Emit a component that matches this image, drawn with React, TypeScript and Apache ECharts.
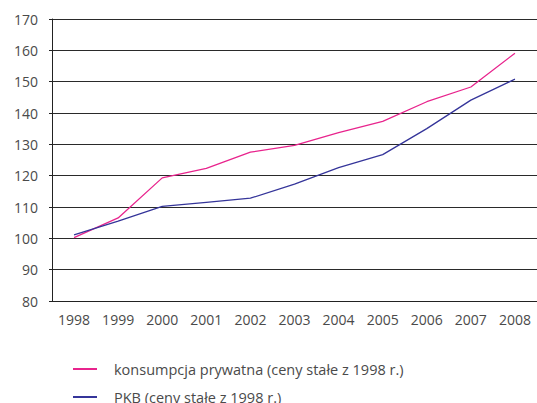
import React, { useEffect, useRef } from "react";
import * as echarts from "echarts";

const years = ["1998", "1999", "2000", "2001", "2002", "2003", "2004", "2005", "2006", "2007", "2008"];
const konsumpcja = [100.2, 106.5, 119.3, 122.3, 127.5, 129.7, 133.7, 137.3, 143.6, 148.3, 159.1];
const pkb = [101.1, 105.5, 110.2, 111.5, 112.8, 117.3, 122.6, 126.7, 135.0, 144.1, 150.8];
const seriesNames = ["konsumpcja prywatna (ceny stałe z 1998 r.)", "PKB (ceny stałe z 1998 r.)"];

const FONT = "'Open Sans', 'Noto Sans', sans-serif";
const TEXT = "#4a4a4a";

function legendFor(name: string, top: number) {
  return {
    orient: "horizontal",
    left: 73,
    top,
    padding: 0,
    icon: "rect",
    itemWidth: 24,
    itemHeight: 2,
    textStyle: { fontSize: 14.5, color: TEXT, fontFamily: FONT, lineHeight: 18, padding: [0, 0, 0, 12] },
    data: [name],
  };
}

export default function App() {
  const ref = useRef<HTMLDivElement>(null);
  useEffect(() => {
    document.body.style.margin = "0";
    const chart = echarts.init(ref.current!, null, { renderer: "svg" });
    chart.setOption({
      animation: false,
      backgroundColor: "#ffffff",
      textStyle: { fontFamily: FONT },
      grid: { left: 52, top: 19, right: -1, bottom: 102, containLabel: false },
      legend: [legendFor(seriesNames[0], 360), legendFor(seriesNames[1], 388)],
      xAxis: {
        type: "category",
        data: years,
        boundaryGap: true,
        axisLine: { lineStyle: { color: "#222", width: 1 } },
        axisTick: { length: 4, lineStyle: { color: "#222" } },
        axisLabel: { fontSize: 14, color: TEXT, margin: 11, fontFamily: FONT },
      },
      yAxis: {
        type: "value",
        min: 80,
        max: 170,
        interval: 10,
        axisLine: { show: true, lineStyle: { color: "#222", width: 1 } },
        axisTick: { show: true, length: 3, lineStyle: { color: "#222" } },
        axisLabel: { fontSize: 14, color: TEXT, margin: 14, fontFamily: FONT },
        splitLine: { lineStyle: { color: "#2a2a2a", width: 1 } },
      },
      series: [
        {
          name: seriesNames[0],
          type: "line",
          data: konsumpcja,
          symbol: "none",
          lineStyle: { color: "#e8248d", width: 1.3 },
          itemStyle: { color: "#e8248d" },
        },
        {
          name: seriesNames[1],
          type: "line",
          data: pkb,
          symbol: "none",
          lineStyle: { color: "#35359a", width: 1.3 },
          itemStyle: { color: "#35359a" },
        },
      ],
    });
    return () => chart.dispose();
  }, []);
  return <div ref={ref} style={{ width: 537, height: 403 }} />;
}
